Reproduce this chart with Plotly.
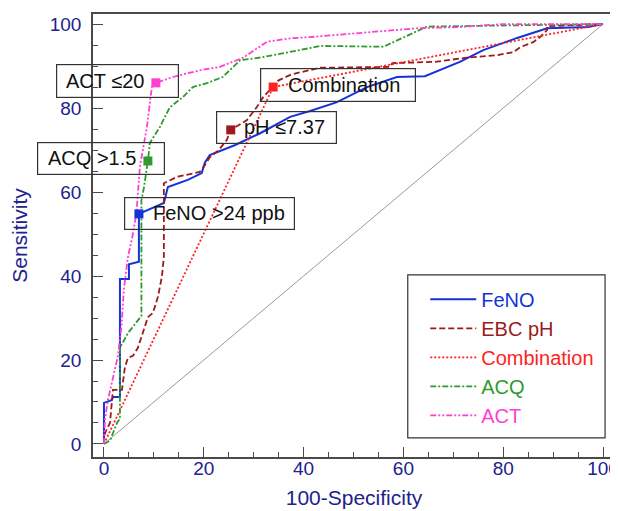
import plotly.graph_objects as go

# ---- data ----
feno_x = [0, 0, 1.6, 1.8, 3.0, 3.2, 3.2, 5.0, 5.0, 7.0, 7.0, 12.0, 12.8, 16.8, 19.6, 20.2, 21.2, 26.3, 31.3, 37.3, 41.3, 46.7, 52.7, 58.7, 64.3, 71.3, 76.0, 82.8, 88.8, 97.0, 100]
feno_y = [0, 9.8, 10.5, 11.2, 11.2, 11.2, 39.3, 39.3, 42.8, 43.4, 54.8, 57.4, 61.2, 62.9, 64.5, 67.0, 68.8, 71.2, 74.0, 77.9, 79.3, 81.4, 85.0, 87.4, 87.6, 91.0, 93.8, 96.7, 99.0, 99.3, 100]

ph_x = [0, 0.2, 1.2, 1.8, 3.6, 4.2, 4.8, 5.8, 6.8, 7.8, 8.8, 9.8, 10.8, 11.6, 12.0, 12.0, 14.6, 19.2, 20.0, 21.2, 23.0, 24.6, 25.4, 28.6, 30.6, 31.9, 33.7, 35.0, 37.5, 43.3, 57.3, 57.8, 66.3, 72.7, 78.8, 82.0, 83.4, 86.0, 87.4, 88.8, 88.8, 100]
ph_y = [0, 2.6, 5.0, 12.9, 12.9, 18.3, 20.5, 21.0, 22.9, 26.4, 30.2, 31.2, 35.0, 39.8, 44.5, 62.1, 63.6, 64.8, 66.0, 68.3, 70.0, 72.4, 74.8, 77.1, 80.2, 82.6, 85.0, 86.6, 88.0, 89.6, 89.8, 90.7, 91.0, 92.0, 92.6, 93.3, 94.5, 95.7, 96.9, 98.6, 99.5, 100]

comb_x = [0, 33.9, 100]
comb_y = [0, 85.0, 100]

acq_x = [0, 1.2, 1.8, 2.6, 3.2, 3.2, 4.8, 6.8, 7.5, 7.5, 8.0, 8.8, 9.2, 11.2, 13.2, 15.8, 17.8, 20.8, 23.8, 25.9, 27.3, 31.7, 37.3, 41.3, 43.3, 56.0, 64.7, 100]
acq_y = [0, 0.8, 2.6, 5.0, 6.0, 22.9, 26.4, 29.5, 30.5, 58.0, 61.0, 67.4, 71.7, 75.5, 80.2, 82.6, 85.0, 86.0, 87.4, 89.8, 91.4, 92.1, 93.3, 94.3, 94.8, 94.6, 99.4, 100]

act_x = [0, 0.2, 0.8, 1.8, 2.8, 3.5, 4.0, 4.8, 5.8, 6.5, 7.2, 8.6, 9.6, 10.4, 13.8, 19.2, 23.2, 27.9, 32.7, 37.3, 41.3, 62.7, 71.3, 80.0, 100]
act_y = [0, 6.0, 10.5, 16.0, 21.0, 28.0, 37.0, 44.5, 50.0, 55.0, 66.0, 75.5, 85.0, 86.0, 87.4, 89.0, 89.8, 92.0, 95.8, 96.6, 96.9, 99.0, 99.3, 100, 100]

series_names = ["FeNO", "EBC pH", "Combination", "ACQ", "ACT"]
cut_labels = ["FeNO >24 ppb", "pH ≤7.37", "Combination", "ACQ >1.5", "ACT ≤20"]
cut_x = [7.0, 25.4, 33.9, 8.8, 10.4]
cut_y = [54.8, 74.8, 85.0, 67.4, 86.0]

diag_x = [0, 100]
diag_y = [0, 100]

x_ticks = [0, 20, 40, 60, 80, 100]
y_ticks = [0, 20, 40, 60, 80, 100]

# ---- style ----
colors = ["#1533d9", "#9c1a1a", "#ff2222", "#2f9a2f", "#ff3fd2"]
dashes = ["solid", "6px,3px", "2px,2px", "6px,2px,2px,2px", "6px,2px,2px,2px,2px,2px"]
navy = "#22228c"
frame = "#4a4a4a"
FONT = "Arial, Liberation Sans, sans-serif"

fig = go.Figure()

fig.add_trace(go.Scatter(x=diag_x, y=diag_y, mode="lines",
                         line=dict(color="#9a9a9a", width=1), showlegend=False, hoverinfo="skip"))

all_x = [feno_x, ph_x, comb_x, acq_x, act_x]
all_y = [feno_y, ph_y, comb_y, acq_y, act_y]
for i in range(5):
    fig.add_trace(go.Scatter(
        x=all_x[i], y=all_y[i], mode="lines",
        name=f"<span style='color:{colors[i]}'>{series_names[i]}</span>",
        line=dict(color=colors[i], width=2 if i == 0 else 1.8, dash=dashes[i]),
    ))

# cut-off markers
for i in range(5):
    fig.add_trace(go.Scatter(x=[cut_x[i]], y=[cut_y[i]], mode="markers",
                             marker=dict(symbol="square", size=9, color=colors[i]),
                             showlegend=False))

# annotation boxes: box centre offset from marker (px), box w/h, text-left offset from marker
box_geom = [
    (70.5, 0.5, 171, 33, 13),    # FeNO
    (45.5, 2.5, 121, 33, 12),    # pH
    (65.0, 2.0, 156, 34, 14),    # Combination
    (-47.0, 2.5, 128, 33, -101), # ACQ
    (-38.5, 2.0, 123, 34, -91),  # ACT
]
for i in range(5):
    dx, dy, w, h, tx = box_geom[i]
    # frame
    fig.add_annotation(
        x=cut_x[i], y=cut_y[i], xref="x", yref="y",
        text=" ", showarrow=False,
        xanchor="center", yanchor="middle",
        xshift=dx, yshift=dy,
        width=w - 4, height=h - 4,
        bordercolor="#333333", borderwidth=1.2, borderpad=1,
        bgcolor="rgba(255,255,255,0)",
        font=dict(family=FONT, size=10, color="#111111"),
    )
    # label
    fig.add_annotation(
        x=cut_x[i], y=cut_y[i], xref="x", yref="y",
        text=cut_labels[i], showarrow=False,
        xanchor="left", yanchor="middle",
        xshift=tx, yshift=dy,
        borderpad=0,
        font=dict(family=FONT, size=20, color="#111111"),
    )

axis_common = dict(
    showgrid=False, zeroline=False, automargin=False,
    showline=True, mirror=True, linecolor=frame, linewidth=1.5,
    ticks="inside", ticklen=10, tickwidth=1, tickcolor=frame,
    tickfont=dict(family=FONT, size=19, color=navy),
    ticklabeloverflow="allow",
    minor=dict(ticks="inside", ticklen=5, tickwidth=1, tickcolor=frame, dtick=5, tick0=0),
)

fig.update_xaxes(range=[-2.2, 102.4], tickvals=x_ticks, **axis_common, ticklabelstandoff=-7,
                 title=dict(text="100-Specificity", font=dict(family=FONT, size=21, color=navy), standoff=13))
fig.update_yaxes(range=[-3.1, 102.4], tickvals=y_ticks, **axis_common, ticklabelstandoff=6,
                 title=dict(text="Sensitivity", font=dict(family=FONT, size=21, color=navy), standoff=19))

# legend frame
fig.add_shape(type="rect", xref="paper", yref="paper",
              x0=0.603, x1=0.981, y0=0.043, y1=0.411,
              line=dict(color="#333333", width=1.2), fillcolor="white", layer="below")

# page body has an 8px margin, so the figure is sized/offset to compensate
fig.update_layout(
    width=614, height=503,
    margin=dict(l=85, r=7, t=6, b=54, autoexpand=False),
    plot_bgcolor="white", paper_bgcolor="white",
    font=dict(family=FONT),
    legend=dict(x=0.6365, y=0.40, xanchor="left", yanchor="top",
                bgcolor="rgba(0,0,0,0)", borderwidth=0,
                font=dict(family=FONT, size=20), itemwidth=46, tracegroupgap=0),
    showlegend=True,
)

fig.write_html("out.html")
